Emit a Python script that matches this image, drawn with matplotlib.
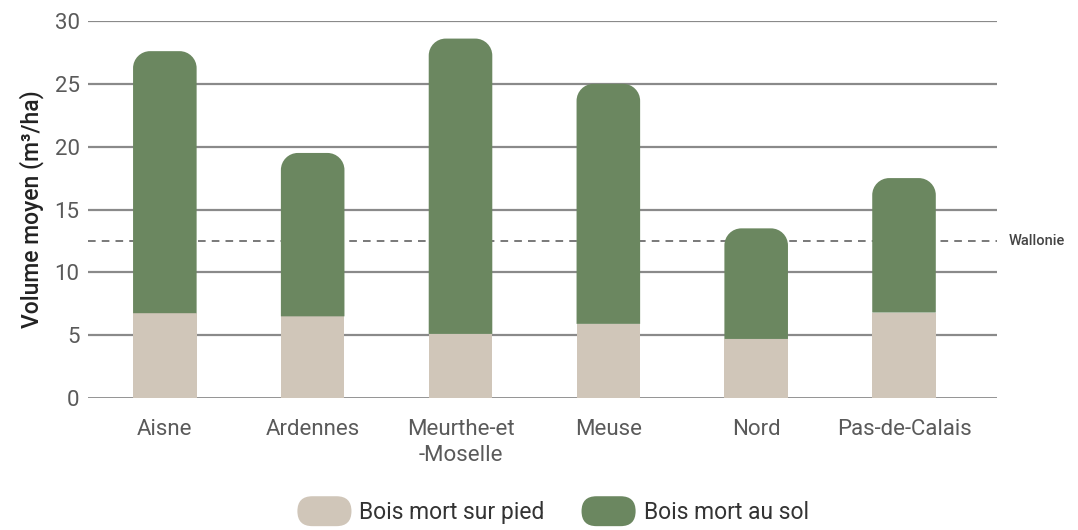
import matplotlib
matplotlib.use("Agg")
import matplotlib.pyplot as plt
from matplotlib.patches import FancyBboxPatch, Patch, PathPatch
from matplotlib.path import Path
from matplotlib.legend_handler import HandlerPatch

categories = ["Aisne", "Ardennes", "Meurthe-et\n-Moselle", "Meuse", "Nord", "Pas-de-Calais"]
sur_pied = [6.75, 6.5, 5.1, 5.9, 4.7, 6.8]
total = [27.6, 19.5, 28.6, 25.0, 13.5, 17.5]
au_sol = [t - s for t, s in zip(total, sur_pied)]
wallonie = 12.5
yticks = [0, 5, 10, 15, 20, 25, 30]

c_pied = "#d0c6b9"
c_sol = "#6b8760"
plt.rcParams['font.family'] = ['Roboto', 'DejaVu Sans']

fig = plt.figure(figsize=(10.78, 5.30), dpi=100)
ax = fig.add_axes([0.0816, 0.249, 0.925 - 0.0816, 0.9604 - 0.249])
x = list(range(len(categories)))
w = 0.43
ax.set_xlim(-0.52, 5.63)
ax.set_ylim(0, 30)

for t in yticks:
    ax.axhline(t, color="#8a8a8a", lw=1.6 if t else 2.0, zorder=1)
ax.axhline(wallonie, color="#555555", lw=1.1, ls=(0, (5, 4)), zorder=1)
ax.text(1.013, wallonie, "Wallonie", transform=ax.get_yaxis_transform(),
        va="center", ha="left", fontsize=10.5, fontweight="medium", color="#444444")

ax.bar(x, sur_pied, width=w, color=c_pied, zorder=2)

# rounded-top bars for au_sol
fig.canvas.draw()
bb = ax.get_window_extent()
px_x = bb.width / (5.63 + 0.52)
px_y = bb.height / 30.0
r_px = 17
rx = r_px / px_x
ry = r_px / px_y
k = 0.5523
for xi, b, h in zip(x, sur_pied, au_sol):
    l, r = xi - w / 2, xi + w / 2
    top = b + h
    verts = [(l, b), (r, b), (r, top - ry),
             (r, top - ry + k * ry), (r - rx + k * rx, top), (r - rx, top),
             (l + rx, top),
             (l + rx - k * rx, top), (l, top - ry + k * ry), (l, top - ry),
             (l, b), (l, b)]
    codes = [Path.MOVETO, Path.LINETO, Path.LINETO,
             Path.CURVE4, Path.CURVE4, Path.CURVE4,
             Path.LINETO,
             Path.CURVE4, Path.CURVE4, Path.CURVE4,
             Path.LINETO, Path.CLOSEPOLY]
    ax.add_patch(PathPatch(Path(verts, codes), facecolor=c_sol, edgecolor="none", zorder=2))

ax.set_yticks(yticks)
ax.set_yticklabels([str(t) for t in yticks], fontsize=16, color="#5a5a5a")
ax.set_xticks(x)
ax.set_xticklabels(categories, fontsize=16, color="#5a5a5a", linespacing=1.35)
ax.tick_params(axis="y", length=0, pad=6)
ax.tick_params(axis="x", length=0, pad=15)
for s in ax.spines.values():
    s.set_visible(False)
ax.set_ylabel("Volume moyen (m³/ha)", fontsize=16.5, fontweight="medium", color="#222222", labelpad=8)


class PillHandler(HandlerPatch):
    def create_artists(self, legend, orig_handle, xdescent, ydescent, width, height, fontsize, trans):
        p = FancyBboxPatch((-xdescent, -ydescent - 5), width, height + 10,
                           boxstyle="round,pad=0,rounding_size=%f" % ((height + 10) / 2),
                           facecolor=orig_handle.get_facecolor(), edgecolor="none", transform=trans)
        return [p]


handles = [Patch(facecolor=c_pied, label="Bois mort sur pied"),
           Patch(facecolor=c_sol, label="Bois mort au sol")]
fig.legend(handles=handles, loc="lower center", bbox_to_anchor=(0.513, -0.028), ncol=2,
           frameon=False, fontsize=16.5, handlelength=2.36, handleheight=0.7,
           columnspacing=1.6, handletextpad=0.35, labelcolor="#333333",
           handler_map={Patch: PillHandler()})

fig.savefig("out.png", dpi=100)
